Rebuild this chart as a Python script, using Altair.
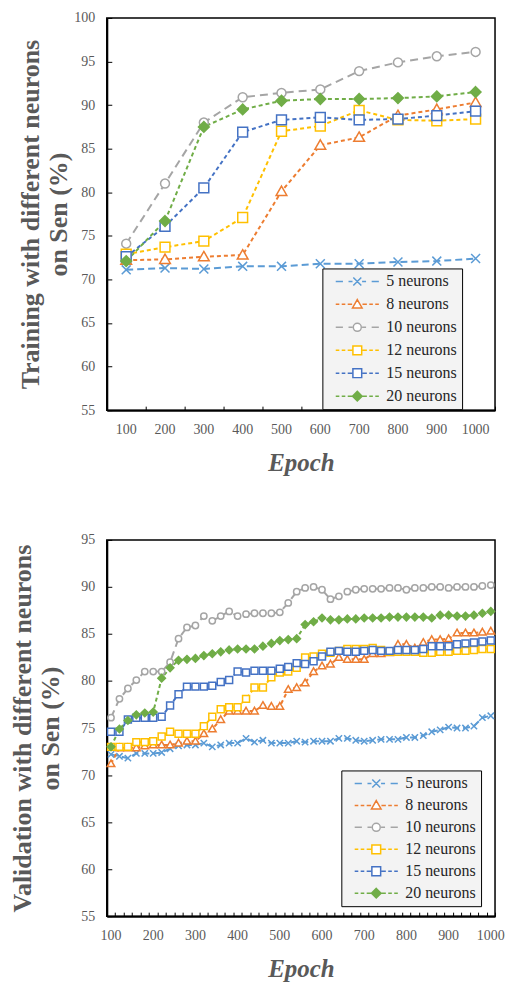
import altair as alt
import pandas as pd

SERIES = ["5 neurons", "8 neurons", "10 neurons", "12 neurons", "15 neurons", "20 neurons"]
COLORS = ["#5B9BD5", "#ED7D31", "#A5A5A5", "#FFC000", "#4472C4", "#70AD47"]
FILLS = ["#ffffff", "#ffffff", "#ffffff", "#ffffff", "#ffffff", "#70AD47"]
DASHES = [[7, 4], [4, 3], [8, 5], [4, 3], [4, 3], [4, 3]]

# ---- Training (top) ----
train_epochs = [100, 200, 300, 400, 500, 600, 700, 800, 900, 1000]
train_n5 = [71.1, 71.3, 71.2, 71.5, 71.5, 71.8, 71.8, 72.0, 72.1, 72.4]
train_n8 = [72.2, 72.3, 72.6, 72.8, 80.1, 85.4, 86.3, 88.8, 89.5, 90.3]
train_n10 = [74.1, 81.0, 88.0, 90.9, 91.4, 91.8, 93.9, 94.9, 95.6, 96.1]
train_n12 = [72.9, 73.7, 74.4, 77.1, 87.0, 87.6, 89.4, 88.3, 88.2, 88.4]
train_n15 = [72.6, 76.1, 80.5, 86.9, 88.3, 88.6, 88.3, 88.4, 88.8, 89.3]
train_n20 = [72.1, 76.7, 87.5, 89.5, 90.5, 90.7, 90.7, 90.8, 91.0, 91.5]

# ---- Validation (bottom) ----
val_epochs = [100, 120, 140, 160, 180, 200, 220, 240, 260, 280,
              300, 320, 340, 360, 380, 400, 420, 440, 460, 480,
              500, 520, 540, 560, 580, 600, 620, 640, 660, 680,
              700, 720, 740, 760, 780, 800, 820, 840, 860, 880,
              900, 920, 940, 960, 980, 1000]
val_n5 = [72.2, 72.0, 71.8, 72.3, 72.3, 72.3, 72.4, 72.8, 73.1, 73.2,
          73.2, 73.4, 73.0, 73.2, 73.4, 73.4, 73.9, 73.5, 73.7, 73.4,
          73.4, 73.4, 73.6, 73.5, 73.6, 73.6, 73.6, 73.9, 73.9, 73.7,
          73.6, 73.7, 73.8, 73.8, 73.8, 74.0, 74.0, 74.2, 74.6, 74.8,
          75.1, 75.0, 75.0, 75.2, 76.1, 76.3]
val_n8 = [71.2, 72.9, 72.9, 72.9, 73.1, 73.2, 73.2, 73.2, 73.4, 73.6,
          73.6, 74.4, 74.9, 75.9, 76.8, 76.8, 76.8, 76.8, 77.4, 77.3,
          77.3, 79.1, 79.3, 79.8, 81.0, 81.6, 81.8, 82.5, 82.3, 82.3,
          82.3, 82.9, 82.9, 83.0, 83.9, 83.9, 83.5, 84.1, 84.4, 84.4,
          84.5, 85.1, 85.1, 85.1, 85.2, 85.3]
val_n10 = [76.1, 78.1, 79.2, 80.1, 81.0, 81.0, 81.0, 82.0, 84.5, 85.7,
           85.9, 86.9, 86.4, 86.9, 87.4, 86.9, 87.1, 87.2, 87.2, 87.2,
           87.3, 88.3, 89.5, 89.9, 90.0, 89.7, 88.7, 89.0, 89.5, 89.7,
           89.8, 89.8, 89.8, 89.9, 89.9, 89.7, 89.9, 89.9, 90.0, 90.0,
           89.9, 90.0, 90.0, 90.0, 90.1, 90.2]
val_n12 = [73.0, 73.0, 73.0, 73.5, 73.5, 73.6, 74.1, 74.6, 74.4, 74.4,
           74.4, 75.2, 76.2, 77.0, 77.2, 77.2, 78.1, 79.3, 79.3, 80.4,
           80.9, 81.0, 81.4, 82.5, 82.6, 82.9, 83.0, 83.2, 83.4, 83.4,
           83.4, 83.5, 83.3, 83.1, 83.1, 83.1, 83.1, 83.0, 83.0, 83.1,
           83.1, 83.2, 83.2, 83.3, 83.4, 83.4]
val_n15 = [74.6, 74.6, 75.9, 76.1, 76.1, 76.1, 76.2, 77.4, 78.6, 79.4,
           79.4, 79.4, 79.5, 79.9, 80.1, 81.0, 80.9, 81.1, 81.1, 81.1,
           81.3, 81.5, 81.9, 81.8, 82.1, 82.6, 83.1, 83.2, 83.1, 83.1,
           83.2, 83.3, 83.2, 83.2, 83.3, 83.3, 83.3, 83.4, 83.7, 83.7,
           83.7, 83.9, 84.0, 84.1, 84.2, 84.3]
val_n20 = [73.0, 74.9, 75.8, 76.4, 76.6, 76.7, 80.3, 81.4, 82.2, 82.3,
           82.4, 82.7, 82.9, 83.1, 83.3, 83.4, 83.4, 83.4, 83.7, 84.0,
           84.3, 84.4, 84.5, 86.0, 86.3, 86.7, 86.5, 86.5, 86.6, 86.6,
           86.7, 86.7, 86.7, 86.8, 86.8, 86.8, 86.8, 86.8, 86.7, 87.0,
           87.0, 86.9, 86.9, 87.0, 87.2, 87.4]

# ---- marker shapes (unit box) ----
M_X = "M-1,-1L1,1M-1,1L1,-1"
M_TRI = "M0,-1.2L1.2,0.9L-1.2,0.9Z"
M_CIR = "M1,0A1,1,0,1,1,-1,0A1,1,0,1,1,1,0Z"
M_SQ = "M-1.1,-1.1H1.1V1.1H-1.1Z"
M_DIA = "M0,-1.2L1.2,0L0,1.2L-1.2,0Z"
MARKERS = [M_X, M_TRI, M_CIR, M_SQ, M_SQ, M_DIA]

LONG = "M-5.4,0H-3.6M-2.2,0H-1.2M1.2,0H2.2M3.6,0H5.4"
SHORT = "M-5.4,0H-4.5M-3.9,0H-3M-2.4,0H-1.3M1.3,0H2.4M3,0H3.9M4.5,0H5.4"
LEG_SHAPES = [LONG + M_X, SHORT + M_TRI, LONG + M_CIR, SHORT + M_SQ, SHORT + M_SQ, SHORT + M_DIA]

FONT = "Liberation Serif"
GREY = "#595959"


def long_df(epochs, series_values):
    rows = []
    for name, vals in zip(SERIES, series_values):
        for e, v in zip(epochs, vals):
            rows.append({"epoch": e, "series": name, "value": v})
    return pd.DataFrame(rows)


def panel(df, epochs, ymin, ymax, width, height, ytitle, lx, ly, psize,
          label_expr, title_pad, row_pad):
    xscale = alt.Scale(type="band", domain=epochs, paddingInner=0, paddingOuter=0)
    yscale = alt.Scale(domain=[ymin, ymax], nice=False, zero=False)
    yvals = list(range(ymin, ymax + 1, 5))

    stroke_enc = alt.Stroke("series:N", scale=alt.Scale(domain=SERIES, range=COLORS), legend=None)

    lines = alt.Chart(df).mark_line(strokeWidth=2).encode(
        x=alt.X("epoch:O", scale=xscale, bandPosition=0.5,
                axis=alt.Axis(orient="bottom", offset=-4, tickSize=4, ticks=True, labels=False,
                              domain=False, title=None, tickBand="extent",
                              tickColor="black", tickWidth=1, grid=False)),
        y=alt.Y("value:Q", scale=yscale,
                axis=alt.Axis(orient="left", offset=-5, tickSize=5, ticks=True, labels=False,
                              domain=False, title=None, values=yvals, grid=False,
                              tickColor="black", tickWidth=1)),
        stroke=stroke_enc,
        strokeDash=alt.StrokeDash("series:N", scale=alt.Scale(domain=SERIES, range=DASHES), legend=None),
    )

    points = alt.Chart(df).mark_point(opacity=1, strokeWidth=1.5, size=psize).encode(
        x=alt.X("epoch:O", scale=xscale, bandPosition=0.5,
                axis=alt.Axis(orient="bottom", ticks=False, tickSize=0, labels=True, labelExpr=label_expr,
                              labelFont=FONT, labelFontSize=14, labelColor=GREY, labelPadding=12,
                              labelAngle=0, labelOverlap=False,
                              domain=True, domainColor="black", domainWidth=2, grid=False,
                              title="Epoch", titleFont=FONT, titleFontSize=25, titleFontWeight="bold",
                              titleFontStyle="italic", titleColor=GREY, titlePadding=14)),
        y=alt.Y("value:Q", scale=yscale,
                axis=alt.Axis(orient="left", ticks=False, tickSize=0, values=yvals, labelFont=FONT,
                              labelFontSize=14, labelColor=GREY, labelPadding=12,
                              domain=True, domainColor="black", domainWidth=2, grid=False,
                              title=ytitle, titleFont=FONT, titleFontSize=26, titleFontWeight="bold",
                              titleColor=GREY, titlePadding=title_pad, titleLineHeight=28)),
        stroke=stroke_enc,
        fill=alt.Fill("series:N", scale=alt.Scale(domain=SERIES, range=FILLS), legend=None),
        shape=alt.Shape("series:N", scale=alt.Scale(domain=SERIES, range=MARKERS), legend=None),
    )

    leg = alt.Legend(orient="none", legendX=lx, legendY=ly, title=None, direction="vertical",
                     padding=5, strokeColor="black", fillColor="#f3f3f3",
                     symbolSize=64, symbolStrokeWidth=1.5, symbolFillColor="white",
                     symbolOffset=22, labelOffset=21, labelFont=FONT, labelFontSize=16,
                     labelColor="#262626", rowPadding=row_pad, labelLimit=300)

    legend_layer = alt.Chart(df).transform_filter("false").mark_point(opacity=1, strokeWidth=1.5).encode(
        stroke=alt.Stroke("series:N", scale=alt.Scale(domain=SERIES, range=COLORS), legend=leg),
        fill=alt.Fill("series:N", scale=alt.Scale(domain=SERIES, range=FILLS), legend=leg),
        shape=alt.Shape("series:N", scale=alt.Scale(domain=SERIES, range=LEG_SHAPES), legend=leg),
    )

    return alt.layer(lines, points, legend_layer).resolve_scale(
        stroke="independent", fill="independent", shape="independent", strokeDash="independent"
    ).resolve_axis(x="independent", y="independent").properties(width=width, height=height)


train_df = long_df(train_epochs, [train_n5, train_n8, train_n10, train_n12, train_n15, train_n20])
val_df = long_df(val_epochs, [val_n5, val_n8, val_n10, val_n12, val_n15, val_n20])

top = panel(train_df, train_epochs, 55, 100, 389, 393,
            ["Training with different neurons", "on Sen (%)"], 216, 251, 80,
            "datum.label", 2, 7)
bottom = panel(val_df, val_epochs, 55, 95, 389, 377,
               ["Validation with different neurons", "on Sen (%)"], 235, 231, 40,
               "datum.value % 100 == 0 ? datum.label : ''", 17, 6)

chart = alt.vconcat(top, bottom, spacing=56).properties(
    padding={"left": 9, "top": 9, "right": 2, "bottom": 0}
).configure(font=FONT).configure_axis(
    labelFont=FONT, titleFont=FONT
).configure_legend(labelFont=FONT).configure_view(fill="#f3f3f3", stroke="black", strokeWidth=1.5)

chart.save("out.html", embed_options={"renderer": "svg", "actions": False})
